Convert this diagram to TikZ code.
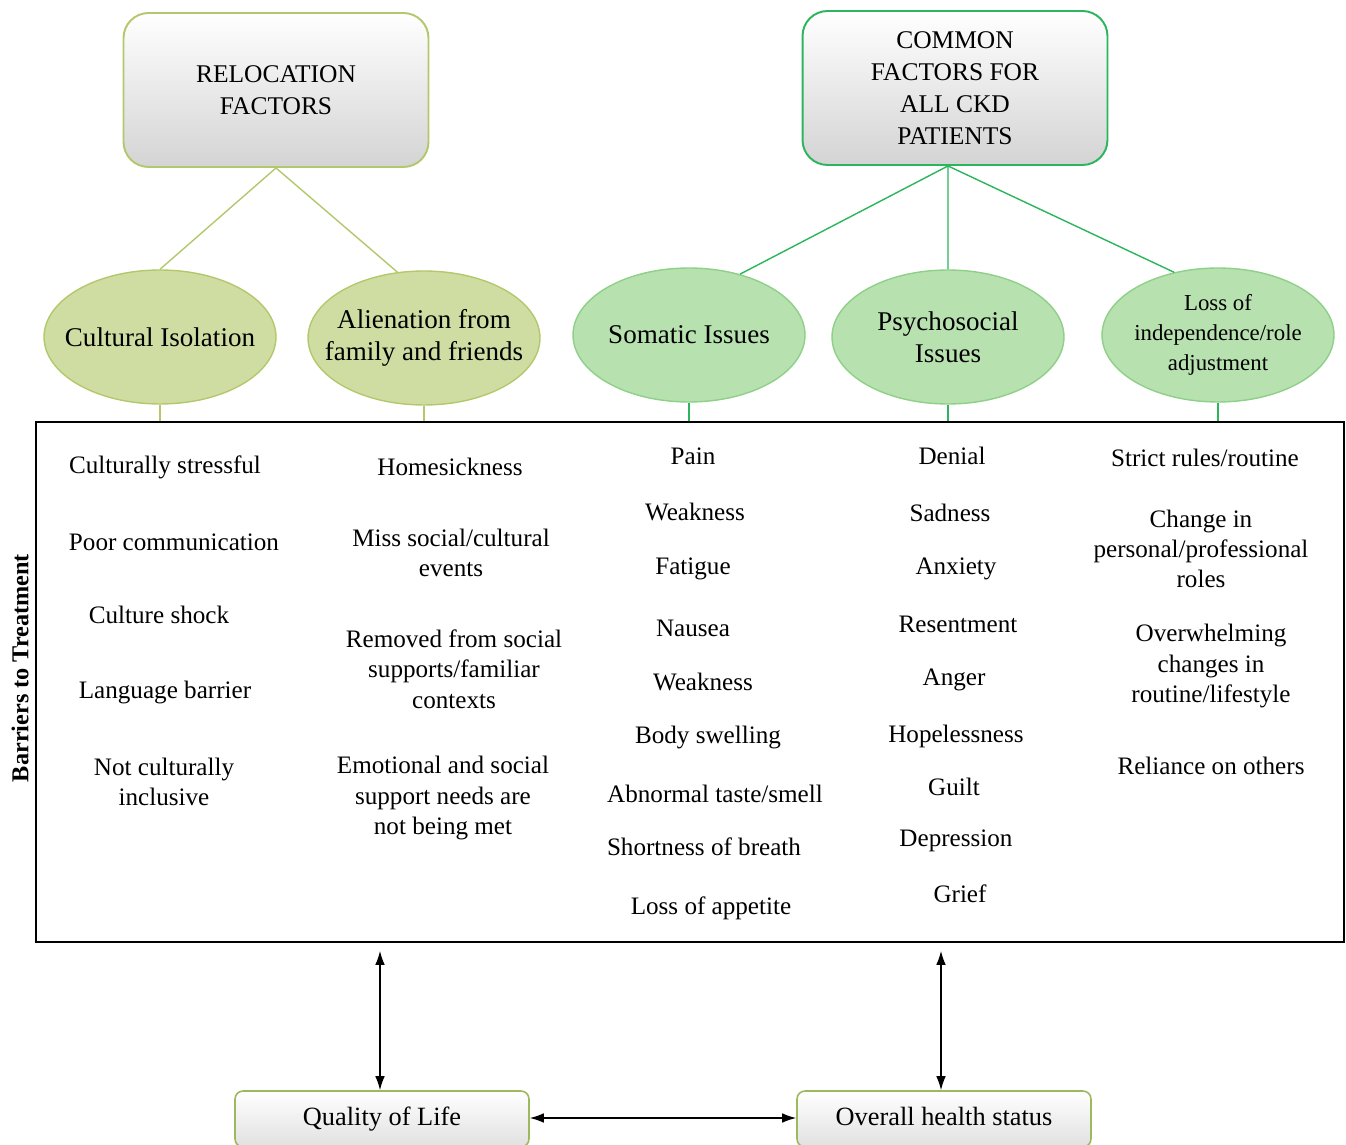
\documentclass[tikz,border=0pt]{standalone}
\usepackage{fontspec}
\setmainfont{Liberation Serif}
\usetikzlibrary{shapes.geometric,arrows.meta}

\definecolor{olivebd}{HTML}{B3C86C}
\definecolor{olivefill}{HTML}{CFDDA2}
\definecolor{greenbd}{HTML}{2BB55C}
\definecolor{greenell}{HTML}{8ED088}
\definecolor{greenfill}{HTML}{B8E1B0}
\definecolor{qolbd}{HTML}{9DB95E}

\tikzset{
  txt/.style={font=\fontsize{14.3}{17.3}\selectfont, align=center, inner sep=0pt},
  headbox/.style={draw, line width=1.1pt, rounded corners=0.5cm, top color=white,
    bottom color=black!17, minimum width=6.1cm, minimum height=3.08cm, align=center,
    font=\fontsize{14.5}{18.3}\selectfont},
  oliveell/.style={ellipse, draw=olivebd, fill=olivefill, line width=0.8pt,
    minimum width=4.64cm, minimum height=2.68cm, inner xsep=-1.5cm, inner ysep=0pt,
    align=center, font=\fontsize{15.4}{18.3}\selectfont},
  greenell/.style={oliveell, draw=greenell, fill=greenfill},
  footbox/.style={draw=qolbd, line width=0.9pt, rounded corners=0.16cm, top color=white,
    bottom color=black!12, minimum width=5.88cm, minimum height=1.12cm,
    text height=11pt, text depth=3.5pt, font=\fontsize{15}{18}\selectfont},
  olivelink/.style={draw=olivebd, line width=0.8pt},
  greenlink/.style={draw=greenbd, line width=0.8pt},
  both/.style={{Latex[length=8pt,width=5.5pt]}-{Latex[length=8pt,width=5.5pt]}, line width=0.8pt}
}

\begin{document}
\begin{tikzpicture}[x=0.02cm, y=-0.02cm]
  \useasboundingbox (0,0) rectangle (1346,1145);

  % Factor boxes
  \node[headbox, draw=olivebd] (reloc) at (276,90) {RELOCATION\\FACTORS};
  \node[headbox, draw=greenbd] (common) at (955,88) {COMMON\\FACTORS FOR\\ALL CKD\\PATIENTS};
  \coordinate (hub) at ([xshift=-0.14cm]common.south);

  % Factor ellipses
  \node[oliveell] (cult) at (160,337) {Cultural Isolation};
  \node[oliveell] (alien) at (424,338) {Alienation from\\family and friends};
  \node[greenell] (soma) at (689,335) {Somatic Issues};
  \node[greenell] (psych) at (948,337) {Psychosocial\\Issues};
  \node[greenell, font=\fontsize{13}{17}\selectfont] (loss) at (1218,335)
    {Loss of\\independence/role\\adjustment};

  \draw[olivelink] (reloc.south) -- (cult.north);
  \draw[olivelink] (reloc.south) -- (alien.112);
  \draw[greenlink] (hub) -- (soma.50);
  \draw[greenlink] (hub) -- (psych.north);
  \draw[greenlink] (hub) -- (loss.125);

  % Barriers frame
  \node[draw, line width=1pt, minimum width=26.16cm, minimum height=10.4cm, inner sep=0pt]
    (frame) at (690,682) {};
  \node[rotate=90, font=\bfseries\fontsize{13.8}{16}\selectfont] (barr) at (20,668)
    {Barriers to Treatment};

  \draw[olivelink] (cult.south) -- (cult.south |- frame.north);
  \draw[olivelink] (alien.south) -- (alien.south |- frame.north);
  \draw[greenlink] (soma.south) -- (soma.south |- frame.north);
  \draw[greenlink] (psych.south) -- (psych.south |- frame.north);
  \draw[greenlink] (loss.south) -- (loss.south |- frame.north);

  % Column texts
  \foreach \x/\y/\t [count=\i] in {165/467/Culturally stressful, 174/542/Poor communication,
      159/615/Culture shock, 165/692/Language barrier, 164/782/{Not culturally\\inclusive}}
    \node[txt] (cul\i) at (\x,\y) {\t};
  \foreach \x/\y/\t [count=\i] in {450/467/Homesickness, 451/553/{Miss social/cultural\\events},
      454/669/{Removed from social\\supports/familiar\\contexts},
      443/798/{Emotional and social\\support needs are\\not being met}}
    \node[txt] (ali\i) at (\x,\y) {\t};
  \foreach \x/\y/\t [count=\i] in {693/456/Pain, 695/512/Weakness, 693/569/Fatigue,
      693/628/Nausea, 703/682/Weakness, 708/737/Body swelling, 715/794/{Abnormal taste/smell},
      704/847/Shortness of breath, 711/908/Loss of appetite}
    \node[txt] (som\i) at (\x,\y) {\t};
  \foreach \x/\y/\t [count=\i] in {952/456/Denial, 950/513/Sadness, 956/569/Anxiety,
      958/624/Resentment, 954/680/Anger, 956/736/Hopelessness, 954/787/Guilt,
      956/841/Depression, 960/894/Grief}
    \node[txt] (psy\i) at (\x,\y) {\t};
  \foreach \x/\y/\t [count=\i] in {1205/458/{Strict rules/routine},
      1201/549/{Change in\\personal/professional\\roles},
      1211/666/{Overwhelming\\changes in\\routine/lifestyle}, 1211/766/Reliance on others}
    \node[txt] (los\i) at (\x,\y) {\t};

  % Outcomes
  \node[footbox] (qol) at (382,1119) {Quality of Life};
  \node[footbox] (ohs) at (944,1119) {Overall health status};

  \draw[both] ([xshift=-0.04cm]qol.north) -- ([xshift=-0.04cm,yshift=-0.16cm]qol.north |- frame.south);
  \draw[both] ([xshift=-0.06cm]ohs.north) -- ([xshift=-0.06cm,yshift=-0.16cm]ohs.north |- frame.south);
  \draw[both] ([yshift=0.02cm]qol.east) -- ([yshift=0.02cm]ohs.west);
\end{tikzpicture}
\end{document}
